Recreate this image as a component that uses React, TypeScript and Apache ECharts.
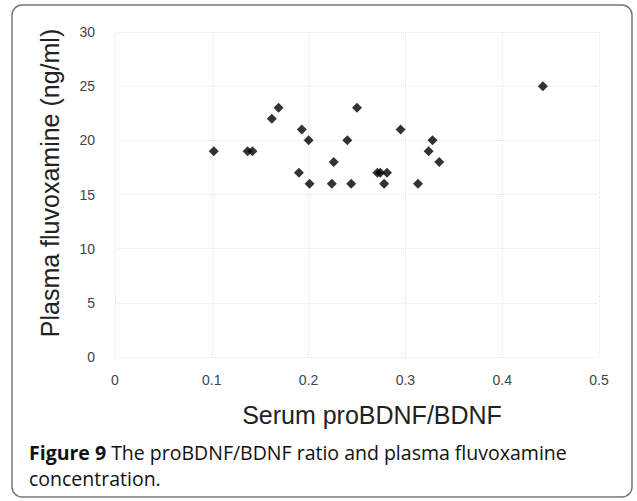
import React, { useEffect, useRef } from "react";
import * as echarts from "echarts";

const ratio = [0.102, 0.137, 0.142, 0.162, 0.169, 0.193, 0.2, 0.19, 0.201, 0.226, 0.224, 0.24, 0.244, 0.25, 0.271, 0.274, 0.281, 0.278, 0.295, 0.313, 0.324, 0.328, 0.335, 0.442];
const fluvoxamine = [19, 19, 19, 22, 23, 21, 20, 17, 16, 18, 16, 20, 16, 23, 17, 17, 17, 16, 21, 16, 19, 20, 18, 25];

const xTitle = "Serum proBDNF/BDNF";
const yTitle = "Plasma fluvoxamine (ng/ml)";
const captionBold = "Figure 9";
const captionRest = " The proBDNF/BDNF ratio and plasma fluvoxamine";
const captionLine2 = "concentration.";

export default function App() {
  const ref = useRef<HTMLDivElement>(null);
  useEffect(() => {
    if (!ref.current) return;
    const chart = echarts.init(ref.current, null, { renderer: "svg" });
    const data = ratio.map((x, i) => [x, fluvoxamine[i]]);
    const labelFont = "'Liberation Sans', Arial, sans-serif";
    chart.setOption({
      animation: false,
      backgroundColor: "#ffffff",
      grid: { left: 115, right: 38, top: 32, bottom: 144 },
      xAxis: {
        type: "value",
        min: 0,
        max: 0.5,
        interval: 0.1,
        axisLine: { show: false },
        axisTick: { show: false },
        axisLabel: { color: "#444", fontSize: 14, fontFamily: labelFont, margin: 16 },
        splitLine: { show: true, lineStyle: { color: "#e6e6e6", type: "dotted", width: 1 } },
      },
      yAxis: {
        type: "value",
        min: 0,
        max: 30,
        interval: 5,
        axisLine: { show: false },
        axisTick: { show: false },
        axisLabel: { color: "#444", fontSize: 14, fontFamily: labelFont, margin: 20 },
        splitLine: { show: true, lineStyle: { color: "#e6e6e6", type: "dotted", width: 1 } },
      },
      series: [
        {
          type: "scatter",
          data,
          symbol: "diamond",
          symbolSize: 10,
          itemStyle: { color: "#000" },
        },
      ],
      graphic: [
        {
          type: "rect",
          shape: { x: 12, y: 5, width: 620, height: 492, r: 10 },
          style: { fill: "none", stroke: "#777", lineWidth: 1.5 },
          z: -1,
        },
        {
          type: "text",
          x: 372,
          y: 415,
          style: {
            text: xTitle,
            font: "25px 'Liberation Sans', Arial, sans-serif",
            fill: "#222",
            textAlign: "center",
            textVerticalAlign: "middle",
          },
        },
        {
          type: "text",
          x: 50,
          y: 183,
          rotation: Math.PI / 2,
          style: {
            text: yTitle,
            font: "25px 'Liberation Sans', Arial, sans-serif",
            fill: "#222",
            textAlign: "center",
            textVerticalAlign: "middle",
          },
        },
        {
          type: "text",
          x: 29,
          y: 439,
          style: {
            text: "{b|" + captionBold + "}{n|" + captionRest + "}\n{n|" + captionLine2 + "}",
            textVerticalAlign: "top",
            rich: {
              b: { fontFamily: "'Open Sans', sans-serif", fontSize: 19.5, fontWeight: "bold", fill: "#111", lineHeight: 26 },
              n: { fontFamily: "'Open Sans', sans-serif", fontSize: 19.5, fill: "#111", lineHeight: 26 },
            },
          },
        },
      ],
    });
    return () => chart.dispose();
  }, []);
  return (
    <div
      ref={ref}
      style={{ position: "absolute", left: 0, top: 0, width: 637, height: 501 }}
    />
  );
}
